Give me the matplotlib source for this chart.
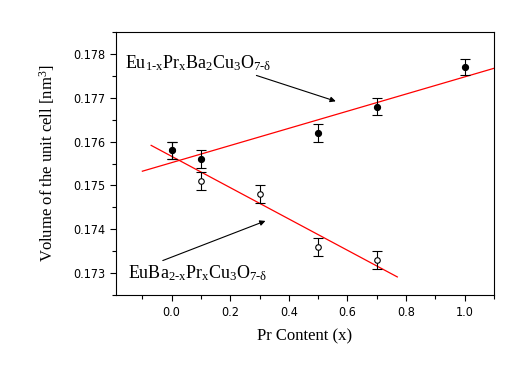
import matplotlib
matplotlib.use('Agg')
import matplotlib.pyplot as plt
import numpy as np
from matplotlib.ticker import MultipleLocator, FormatStrFormatter

plt.rcParams['font.family'] = ['Liberation Serif', 'DejaVu Serif']
plt.rcParams['mathtext.fontset'] = 'custom'
plt.rcParams['mathtext.rm'] = 'Liberation Serif'
plt.rcParams['mathtext.it'] = 'Liberation Serif'

# Eu(1-x)Pr(x)Ba2Cu3O7-d  (filled)
x_eu = [0.0, 0.1, 0.5, 0.7, 1.0]
v_eu = [0.1758, 0.1756, 0.1762, 0.1768, 0.1777]
e_eu = [0.0002, 0.0002, 0.0002, 0.0002, 0.00019]

# EuBa(2-x)Pr(x)Cu3O7-d  (open)
x_ba = [0.0, 0.1, 0.3, 0.5, 0.7]
v_ba = [0.1758, 0.1751, 0.1748, 0.1736, 0.1733]
e_ba = [0.0002, 0.0002, 0.0002, 0.0002, 0.0002]

# x-range of the fitted lines
fit_eu_range = [-0.1, 1.1]
fit_ba_range = [-0.07, 0.77]

fig = plt.figure(figsize=(5.27, 3.83), dpi=100)
ax = fig.add_axes([0.2201, 0.2298, 0.7173, 0.6866])

# linear fits
for xs, vs, rng in [(x_eu, v_eu, fit_eu_range), (x_ba, v_ba, fit_ba_range)]:
    k, b = np.polyfit(xs, vs, 1)
    xx = np.array(rng)
    ax.plot(xx, k * xx + b, color='red', linewidth=0.9, zorder=2)

ax.errorbar(x_ba, v_ba, yerr=e_ba, fmt='o', color='black', mfc='white', mec='black',
            markersize=4, capsize=3.6, elinewidth=0.8, capthick=0.8, mew=0.8, zorder=3)
ax.errorbar(x_eu, v_eu, yerr=e_eu, fmt='o', color='black', markersize=4.2,
            capsize=3.6, elinewidth=0.8, capthick=0.8, zorder=4)

ax.set_xlim(-0.19, 1.1)
ax.set_ylim(0.1725, 0.1785)

ax.xaxis.set_major_locator(MultipleLocator(0.2))
ax.xaxis.set_minor_locator(MultipleLocator(0.1))
ax.yaxis.set_major_locator(MultipleLocator(0.001))
ax.yaxis.set_minor_locator(MultipleLocator(0.0005))
ax.xaxis.set_major_formatter(FormatStrFormatter('%.1f'))
ax.yaxis.set_major_formatter(FormatStrFormatter('%.3f'))
ax.tick_params(which='both', direction='out', top=False, right=False, width=0.8)
ax.tick_params(which='major', length=4.5, pad=3.5)
ax.tick_params(which='minor', length=2.8)
for lab in ax.get_xticklabels() + ax.get_yticklabels():
    lab.set_family(['Liberation Sans Narrow', 'DejaVu Sans'])
    lab.set_stretch('condensed')
    lab.set_fontsize(9)
for s in ax.spines.values():
    s.set_linewidth(0.8)

ax.set_xlabel('Pr Content (x)', fontsize=12, labelpad=7)
ax.set_ylabel('Volume of the unit cell [nm$^3$]', fontsize=12, labelpad=11)

ax.annotate('Eu$_{1\u2010x}$Pr$_x$Ba$_2$Cu$_3$O$_{7\u2010\\delta}$',
            xy=(0.56, 0.17692), xytext=(-0.16, 0.17768),
            fontsize=13, ha='left', va='baseline',
            arrowprops=dict(arrowstyle='-|>', color='black', lw=0.8,
                            mutation_scale=8, shrinkA=0, shrinkB=0,
                            relpos=(0.8, 0.1)))
ax.annotate('EuBa$_{2\u2010x}$Pr$_x$Cu$_3$O$_{7\u2010\\delta}$',
            xy=(0.32, 0.17419), xytext=(-0.15, 0.17288),
            fontsize=13, ha='left', va='baseline',
            arrowprops=dict(arrowstyle='-|>', color='black', lw=0.8,
                            mutation_scale=8, shrinkA=0, shrinkB=0,
                            relpos=(0.2, 1.0)))

fig.savefig('out.png', dpi=100)
